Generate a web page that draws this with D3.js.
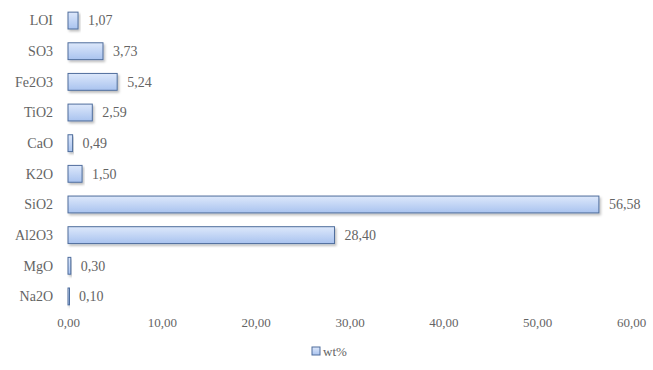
<!DOCTYPE html>
<html>
<head>
<meta charset="utf-8">
<script src="https://cdn.jsdelivr.net/npm/d3@7"></script>
<style>
  html, body { margin: 0; padding: 0; background: #fff; }
</style>
</head>
<body>
<svg id="chart" width="653" height="370"></svg>
<script>
// Oxide composition (wt%)
const oxides = ["LOI", "SO3", "Fe2O3", "TiO2", "CaO", "K2O", "SiO2", "Al2O3", "MgO", "Na2O"];
const wtPercent = [1.07, 3.73, 5.24, 2.59, 0.49, 1.50, 56.58, 28.40, 0.30, 0.10];
const xTicks = [0, 10, 20, 30, 40, 50, 60];
const seriesName = "wt%";

const FONT = "'Times New Roman', 'Liberation Serif', 'DejaVu Serif', Times, serif";
const TEXT = "#646464";
const fmt = v => d3.format(".2f")(v).replace(".", ",");

const svg = d3.select("#chart").attr("font-family", FONT);
const defs = svg.append("defs");

const grad = defs.append("linearGradient")
  .attr("id", "barFill").attr("x1", 0).attr("y1", 0).attr("x2", 0).attr("y2", 1);
grad.append("stop").attr("offset", "0%").attr("stop-color", "#dde8fb");
grad.append("stop").attr("offset", "100%").attr("stop-color", "#a9c3ef");

const shadow = defs.append("filter").attr("id", "shadow")
  .attr("x", "-10%").attr("y", "-30%").attr("width", "130%").attr("height", "190%");
shadow.append("feDropShadow").attr("dx", 1.5).attr("dy", 2).attr("stdDeviation", 1.2)
  .attr("flood-color", "#000").attr("flood-opacity", 0.25);

const x = d3.scaleLinear().domain([0, 60]).range([68, 631]);
const y = d3.scaleBand().domain(oxides).range([6, 311]).paddingInner(0.45).paddingOuter(0.2);

const rows = oxides.map((o, i) => ({ name: o, value: wtPercent[i] }));

// Bars
svg.append("g").selectAll("rect").data(rows).join("rect")
  .attr("x", x(0))
  .attr("y", d => y(d.name))
  .attr("width", d => Math.max(x(d.value) - x(0), 1.5))
  .attr("height", y.bandwidth())
  .attr("fill", "url(#barFill)")
  .attr("stroke", "#4e6d9c")
  .attr("stroke-width", 1)
  .attr("filter", "url(#shadow)");

// Value labels
svg.append("g").selectAll("text").data(rows).join("text")
  .attr("x", d => x(d.value) + 10)
  .attr("y", d => y(d.name) + y.bandwidth() / 2)
  .attr("dy", "0.35em")
  .attr("font-size", 14)
  .attr("font-family", FONT)
  .attr("fill", TEXT)
  .text(d => fmt(d.value));

// Category axis labels
svg.append("g").selectAll("text").data(oxides).join("text")
  .attr("x", 53)
  .attr("y", d => y(d) + y.bandwidth() / 2)
  .attr("dy", "0.35em")
  .attr("text-anchor", "end")
  .attr("font-size", 14)
  .attr("font-family", FONT)
  .attr("fill", TEXT)
  .text(d => d);

// Value axis
const xAxis = svg.append("g")
  .attr("transform", "translate(0,318)")
  .call(d3.axisBottom(x).tickValues(xTicks).tickFormat(fmt).tickSize(0).tickPadding(0));
xAxis.attr("font-family", FONT).attr("font-size", 13);
xAxis.select(".domain").remove();
xAxis.selectAll("text")
  .attr("dy", "0.71em")
  .attr("fill", TEXT);

// Legend
const legend = svg.append("g").attr("transform", "translate(312,347)");
legend.append("rect")
  .attr("width", 8).attr("height", 8)
  .attr("fill", "url(#barFill)").attr("stroke", "#4e6d9c");
legend.append("text")
  .attr("x", 11).attr("y", 4).attr("dy", "0.35em")
  .attr("font-size", 13)
  .attr("font-family", FONT)
  .attr("fill", TEXT)
  .text(seriesName);
</script>
</body>
</html>
